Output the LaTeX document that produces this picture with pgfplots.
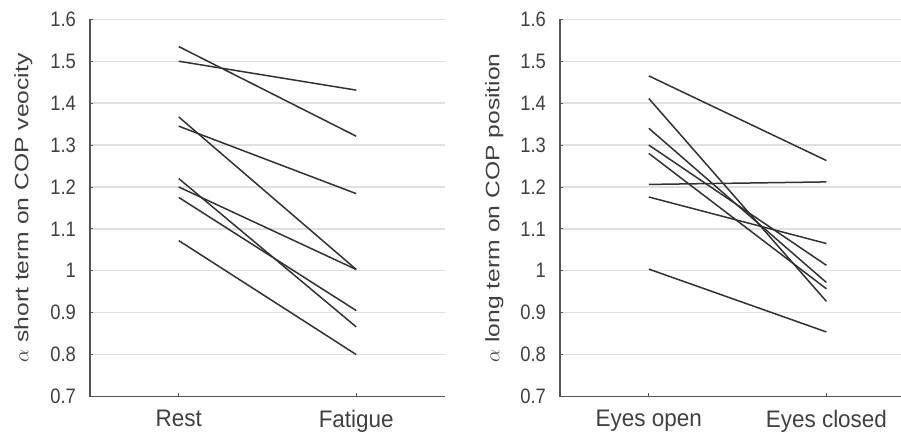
\documentclass[border=0pt]{standalone}
\usepackage{pgfplots}
\pgfplotsset{compat=1.18}
\usepackage{fontspec}
\setmainfont{Liberation Sans}
\newfontfamily\ylabfont[FakeStretch=1.27]{Liberation Sans}
\newfontfamily\ytickfont[FakeStretch=0.88]{Liberation Sans}
\newfontfamily\xtickfont[FakeStretch=0.94]{Liberation Sans}
\definecolor{txt}{RGB}{64,64,64}
\definecolor{ln}{RGB}{50,50,50}
\definecolor{axisc}{RGB}{85,85,85}
\definecolor{gridc}{RGB}{224,224,224}
\pgfplotsset{
  dl/.style={draw=ln, line width=1.5bp, solid, mark=none},
  mystyle/.style={
    scale only axis, height=377.2bp,
    ymin=0.7, ymax=1.6,
    ytick={0.7,0.8,0.9,1,1.1,1.2,1.3,1.4,1.5,1.6},
    xmin=-0.5, xtick={0,1},
    axis x line=bottom, axis y line=left,
    axis line style={-, draw=axisc, line width=1.2bp},
    ymajorgrids, major grid style={draw=gridc, line width=1.3bp},
    tick style={draw=axisc, line width=0.8bp}, major tick length=3bp, tick align=inside,
    /pgf/number format/assume math mode=true,
    yticklabel style={font=\ytickfont\fontsize{21}{25}\selectfont, text=txt, xshift=-10.5bp},
    xticklabel style={font=\xtickfont\fontsize{24}{28}\selectfont, text=txt, yshift=-10bp},
    ylabel style={anchor=north, inner sep=0pt, font=\ylabfont\fontsize{19.5}{24}\selectfont, text=txt},
  }
}
\begin{document}
\begin{tikzpicture}
\useasboundingbox (-90bp,-43.5bp) rectangle (811bp,396.5bp);
\begin{axis}[mystyle, width=355bp, xmax=1.5,
  xticklabels={Rest,Fatigue},
  ylabel={$\alpha$ short term on COP veocity},
  ylabel style={at={(axis description cs:-0.214,0.5)}}]
\addplot[dl] coordinates {(0,1.535) (1,1.321)};
\addplot[dl] coordinates {(0,1.500) (1,1.431)};
\addplot[dl] coordinates {(0,1.367) (1,1.003)};
\addplot[dl] coordinates {(0,1.345) (1,1.184)};
\addplot[dl] coordinates {(0,1.220) (1,0.866)};
\addplot[dl] coordinates {(0,1.200) (1,1.003)};
\addplot[dl] coordinates {(0,1.175) (1,0.905)};
\addplot[dl] coordinates {(0,1.072) (1,0.800)};
\end{axis}
\begin{axis}[mystyle, at={(470bp,0bp)}, width=341bp, xmax=1.42,
  xticklabels={Eyes open,Eyes closed},
  ylabel={$\alpha$ long term on COP position},
  ylabel style={at={(axis description cs:-0.220,0.5)}}]
\addplot[dl] coordinates {(0,1.465) (1,1.263)};
\addplot[dl] coordinates {(0,1.411) (1,0.927)};
\addplot[dl] coordinates {(0,1.340) (1,0.972)};
\addplot[dl] coordinates {(0,1.300) (1,1.013)};
\addplot[dl] coordinates {(0,1.280) (1,0.957)};
\addplot[dl] coordinates {(0,1.206) (1,1.212)};
\addplot[dl] coordinates {(0,1.176) (1,1.065)};
\addplot[dl] coordinates {(0,1.004) (1,0.854)};
\end{axis}
\end{tikzpicture}
\end{document}
